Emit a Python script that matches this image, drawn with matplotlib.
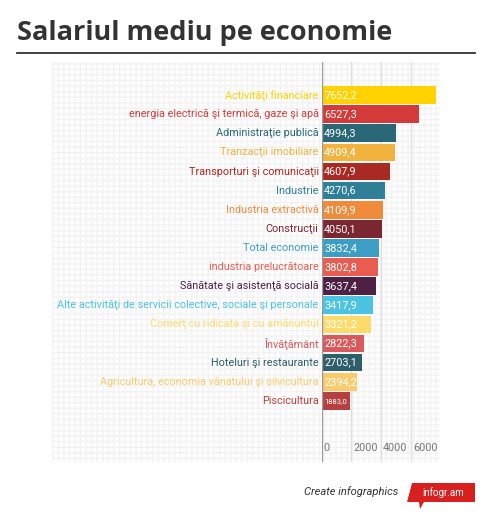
import matplotlib.pyplot as plt
from matplotlib.patches import Rectangle, Polygon
import matplotlib.transforms as mtransforms

categories = [
    "Activităţi financiare",
    "energia electrică şi termică, gaze şi apă",
    "Administraţie publică",
    "Tranzacţii imobiliare",
    "Transporturi şi comunicaţii",
    "Industrie",
    "Industria extractivă",
    "Construcţii",
    "Total economie",
    "industria prelucrătoare",
    "Sănătate şi asistenţă socială",
    "Alte activităţi de servicii colective, sociale şi personale",
    "Comerţ cu ridicata şi cu amănuntul",
    "Învăţământ",
    "Hoteluri şi restaurante",
    "Agricultura, economia vânatului şi silvicultura",
    "Piscicultura",
]
values = [7652.2, 6527.3, 4994.3, 4909.4, 4607.9, 4270.6, 4109.9, 4050.1,
          3832.4, 3802.8, 3637.4, 3417.9, 3321.2, 2822.3, 2703.1, 2394.2, 1883.0]
colors = ["#FFD200", "#D33B3A", "#2A6877", "#F2B23E", "#A92A22", "#2F7F99",
          "#F08B3B", "#7B2731", "#3C9EC5", "#E85D4F", "#4E2046", "#4DC3E3",
          "#FDDB6B", "#D85A5C", "#2D5E69", "#FBCB6B", "#B4413F"]
ticks = [0, 2000, 4000, 6000]

W, H = 490, 521
fig = plt.figure(figsize=(W / 100, H / 100), dpi=100)
narrow = ["Roboto", "DejaVu Sans"]

# dotted background panel, in its own axes behind the bars
bg = fig.add_axes([52 / W, 1 - 462 / H, (440 - 52) / W, 400 / H], zorder=0)
bg.add_patch(Rectangle((0, 0), 1, 1, transform=bg.transAxes, facecolor="#fdfdfd",
                       edgecolor="#f3f3f3", hatch="+++", linewidth=0))
bg.axis("off")

ax = fig.add_axes([321.5 / W, 1 - 462 / H, (441 - 321.5) / W, 400 / H], zorder=1)
ax.patch.set_visible(False)
n = len(values)
pos = list(range(n))
ax.barh(pos, values, height=0.92, color=colors, zorder=3)
ax.set_xlim(0, 8000)
ax.set_ylim(19.2, -1.73)
for s in ax.spines.values():
    s.set_visible(False)
ax.set_xticks([])
ax.set_yticks([])

for t in ticks[1:]:
    ax.axvline(t, color="#e0e0e0", lw=1, zorder=1)
ax.axvline(0, color="#9a9a9a", lw=1, zorder=4)

trans = mtransforms.blended_transform_factory(ax.transData, ax.transAxes)
for t in ticks:
    ax.text(t + 120, 0.022, str(t), transform=trans, ha="left", va="bottom",
            fontsize=7.8, color="#777777", family=narrow)

for i, (cat, v, c) in enumerate(zip(categories, values, colors)):
    ax.text(-200, i, cat, ha="right", va="center", fontsize=7.8, color=c,
            family=narrow, clip_on=False)
    lab = f"{v:.1f}".replace(".", ",")
    ax.text(180, i, lab, ha="left", va="center", color="white", family=narrow,
            fontsize=5.5 if v < 2000 else 7.8, zorder=5)

# title
fig.text(17 / W, 1 - 33 / H, "Salariul mediu pe economie", fontsize=19.5,
         fontweight="bold", color="#333333", va="center", ha="left", family="Open Sans")
fig.add_artist(plt.Line2D([17 / W, 475 / W], [1 - 53 / H, 1 - 53 / H],
                          color="#333333", lw=1.3, transform=fig.transFigure))

# footer
fig.text(398 / W, 1 - 492 / H, "Create infographics", fontsize=8, style="italic",
         color="#333333", ha="right", va="center", family=narrow)
tag = [(412, 483), (475, 483), (475, 502), (424, 502), (420, 509), (419, 502), (407, 502)]
fig.patches.append(Polygon([(x / W, 1 - y / H) for x, y in tag], closed=True,
                           transform=fig.transFigure, facecolor="#D8201F", edgecolor="none"))
fig.text(443 / W, 1 - 492.5 / H, "infogr.am", fontsize=7, color="white",
         ha="center", va="center", family=narrow)

fig.savefig("out.png", dpi=100)
